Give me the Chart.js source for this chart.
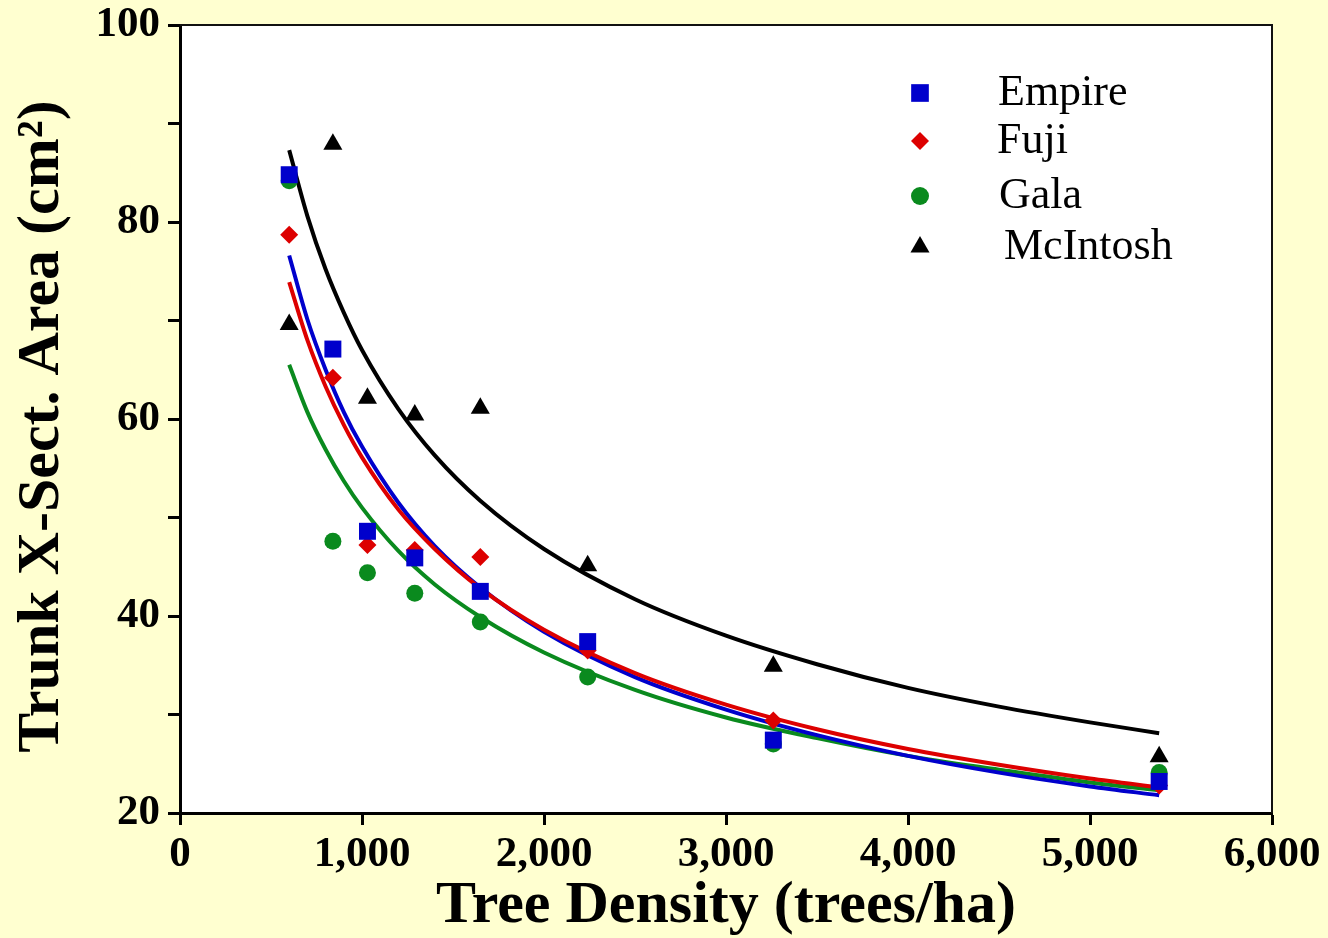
<!DOCTYPE html>
<html>
<head>
<meta charset="utf-8">
<script src="https://cdn.jsdelivr.net/npm/chart.js@4/dist/chart.umd.min.js"></script>
<style>
html,body{margin:0;padding:0;background:#FFFFD0;}
#c{display:block;}
</style>
</head>
<body>
<canvas id="c" width="1328" height="938"></canvas>
<script>
// Observed data
const densities = [600, 840, 1030, 1290, 1650, 2240, 3260, 5380];
const empire   = [84.8, 67.1, 48.6, 45.9, 42.5, 37.4, 27.4, 23.2];
const fuji     = [78.7, 64.2, 47.2, 46.7, 46.0, 36.5, 29.4, 22.8];
const gala     = [84.2, 47.6, 44.4, 42.3, 39.4, 33.8, 27.0, 24.1];
const mcintosh = [69.6, 87.9, 62.1, 60.4, 61.1, 45.1, 34.9, 25.7];

// Fitted curves
const fitDensity  = [600, 700, 800, 900, 1000, 1200, 1400, 1650, 2000, 2500, 3000, 3500, 4000, 4500, 5000, 5380];
const empireFit   = [76.6, 70.1, 65.0, 60.7, 57.2, 51.5, 47.1, 42.9, 38.4, 33.8, 30.5, 27.9, 25.8, 24.1, 22.7, 21.8];
const fujiFit     = [73.9, 68.0, 63.3, 59.4, 56.1, 50.8, 46.8, 42.8, 38.6, 34.2, 31.0, 28.5, 26.5, 24.9, 23.5, 22.6];
const galaFit     = [65.5, 60.7, 56.9, 53.7, 51.0, 46.6, 43.2, 39.9, 36.3, 32.5, 29.7, 27.6, 25.8, 24.4, 23.1, 22.3];
const mcintoshFit = [87.3, 80.6, 75.2, 70.8, 67.0, 61.0, 56.3, 51.7, 46.8, 41.7, 38.0, 35.1, 32.7, 30.8, 29.2, 28.1];

const seriesNames = ['Empire', 'Fuji', 'Gala', 'McIntosh'];
const xTicks = [0, 1000, 2000, 3000, 4000, 5000, 6000];
const yLabelTicks = [20, 40, 60, 80, 100];

const colors = { Empire: '#0000CC', Fuji: '#DD0000', Gala: '#0A8A1E', McIntosh: '#000000' };
const styles = { Empire: ['rect', 12], Fuji: ['rectRot', 9], Gala: ['circle', 8.5], McIntosh: ['triangle', 11] };
const legendRadius = { Empire: 12.5, Fuji: 9, Gala: 9, McIntosh: 11 };

const pts = (xs, ys) => xs.map((x, i) => ({ x: x, y: ys[i] }));

const pointSets = { Empire: empire, Fuji: fuji, Gala: gala, McIntosh: mcintosh };
const fitSets = { Empire: empireFit, Fuji: fujiFit, Gala: galaFit, McIntosh: mcintoshFit };
const pointOrder = { Empire: 1, Fuji: 2, McIntosh: 3, Gala: 4 };
const lineOrder = { McIntosh: 5, Fuji: 6, Empire: 7, Gala: 8 };

const datasets = [];
seriesNames.forEach(n => {
  datasets.push({
    label: n + ' fit', data: pts(fitDensity, fitSets[n]), showLine: true,
    borderColor: colors[n], borderWidth: 4, pointRadius: 0, fill: false,
    cubicInterpolationMode: 'monotone', order: lineOrder[n]
  });
});
seriesNames.forEach(n => {
  datasets.push({
    label: n, data: pts(densities, pointSets[n]), showLine: false,
    backgroundColor: colors[n], borderColor: colors[n], borderWidth: 0,
    pointStyle: styles[n][0], pointRadius: styles[n][1], order: pointOrder[n]
  });
});

const frame = {
  id: 'frame',
  beforeDraw(chart) {
    const { ctx, chartArea: a } = chart;
    ctx.save();
    ctx.fillStyle = '#FFFFD0';
    ctx.fillRect(0, 0, chart.width, chart.height);
    ctx.fillStyle = '#FFFFFF';
    ctx.fillRect(a.left, a.top, a.right - a.left, a.bottom - a.top);
    ctx.restore();
  },
  afterDraw(chart) {
    const { ctx, chartArea: a } = chart;
    ctx.save();
    ctx.strokeStyle = '#111';
    ctx.lineWidth = 2;
    ctx.beginPath();
    ctx.moveTo(a.left, a.top); ctx.lineTo(a.right, a.top); ctx.lineTo(a.right, a.bottom);
    ctx.stroke();
    ctx.restore();
  }
};

const legendPlugin = {
  id: 'customLegend',
  afterDatasetsDraw(chart) {
    const { ctx, chartArea: a } = chart;
    const rowsY = [68, 116, 171, 222];
    const textDX = [-274, -275, -273, -268];
    ctx.save();
    seriesNames.forEach((n, i) => {
      const y = a.top + rowsY[i];
      const mx = a.right - 352;
      ctx.fillStyle = colors[n];
      ctx.strokeStyle = colors[n];
      Chart.helpers.drawPoint(ctx, { pointStyle: styles[n][0], radius: legendRadius[n], rotation: 0, borderWidth: 0 }, mx, y);
      ctx.fillStyle = '#000';
      ctx.font = '44px "Liberation Serif", "Times New Roman", serif';
      ctx.textBaseline = 'middle';
      ctx.textAlign = 'left';
      ctx.fillText(n, a.right + textDX[i], y);
    });
    ctx.restore();
  }
};

const tickFont = { family: '"Liberation Serif", "Times New Roman", serif', size: 43, weight: 'bold' };
const titleFont = { family: '"Liberation Serif", "Times New Roman", serif', size: 60, weight: 'bold', lineHeight: 1.0 };

new Chart(document.getElementById('c'), {
  type: 'scatter',
  data: { datasets: datasets },
  options: {
    responsive: false,
    animation: false,
    layout: { padding: { top: 25, right: 56, bottom: 0, left: 0 } },
    plugins: { legend: { display: false }, tooltip: { enabled: false } },
    scales: {
      x: {
        type: 'linear', min: 0, max: 6000,
        afterBuildTicks(s) { s.ticks = xTicks.map(v => ({ value: v })); },
        afterFit(s) { s.height = 125; s.paddingLeft = 0; s.paddingRight = 0; },
        ticks: { color: '#000', font: tickFont, padding: 4, maxRotation: 0,
          callback: v => v.toLocaleString('en-US') },
        grid: { drawOnChartArea: false, drawTicks: true, tickLength: 12, tickWidth: 3, color: '#000' },
        border: { color: '#000', width: 3 },
        title: { display: true, text: 'Tree Density (trees/ha)', color: '#000', font: titleFont,
          padding: { top: 0, bottom: 2 } }
      },
      y: {
        type: 'linear', min: 20, max: 100,
        ticks: { stepSize: 10, color: '#000', font: tickFont, padding: 8,
          callback: v => (yLabelTicks.includes(v) ? String(v) : '') },
        afterFit(s) { s.width = 180; s.paddingTop = 0; s.paddingBottom = 0; },
        grid: { drawOnChartArea: false, drawTicks: true, tickLength: 12, tickWidth: 3, color: '#000' },
        border: { color: '#000', width: 3 },
        title: { display: true, text: 'Trunk X-Sect. Area (cm²) ', color: '#000',
          font: { family: '"Liberation Serif", "Times New Roman", serif', size: 60, weight: 'bold', lineHeight: 1.2 },
          padding: { top: 6, bottom: 0 } }
      }
    }
  },
  plugins: [frame, legendPlugin]
});
</script>
</body>
</html>
